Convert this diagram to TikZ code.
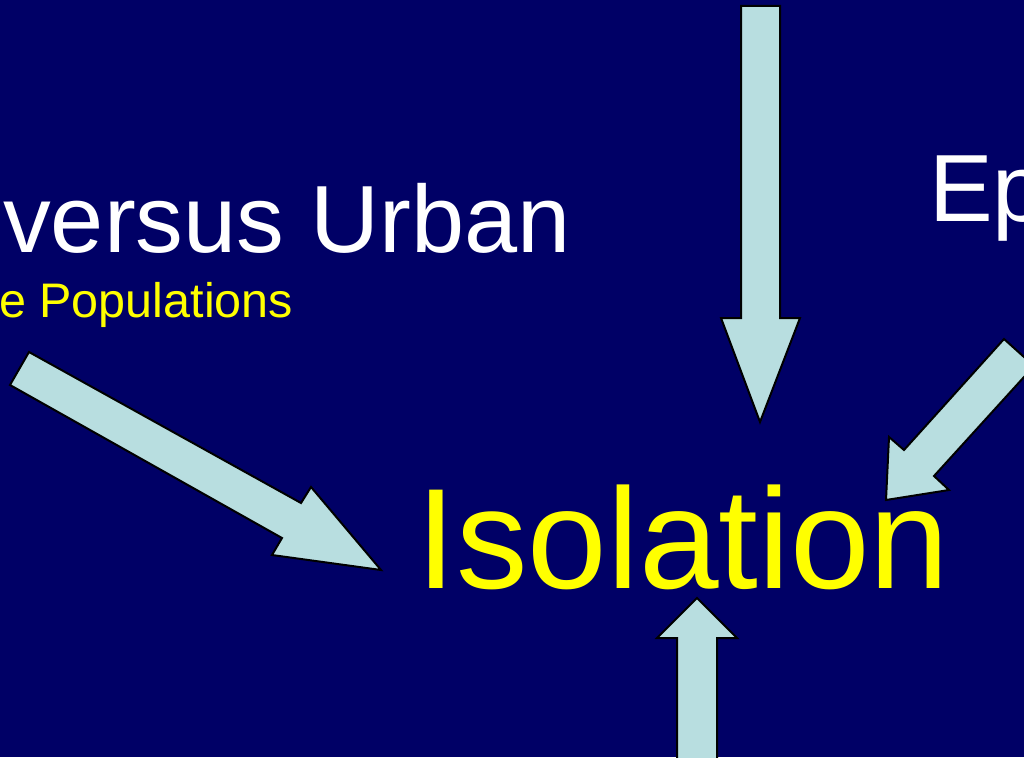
\documentclass[tikz,border=0pt]{standalone}
\usepackage{fontspec}
\setmainfont{Liberation Sans}
\definecolor{bg}{HTML}{000066}
\definecolor{arrowfill}{HTML}{B8DEE0}
\definecolor{yel}{HTML}{FFFF00}
\begin{document}
\begin{tikzpicture}[x=1pt,y=-1pt,
  blockarrow/.style={fill=arrowfill,draw=black,line width=2pt,line join=miter},
  bigwhite/.style={text=white,inner sep=0pt,anchor=base west,font=\fontsize{95.5}{100}\selectfont},
  subyellow/.style={text=yel,inner sep=0pt,anchor=base west,font=\fontsize{48.5}{52}\selectfont},
  titleyellow/.style={text=yel,inner sep=0pt,anchor=base west,font=\fontsize{143}{150}\selectfont}]
\useasboundingbox (0,0) rectangle (1024,757);
\clip (0,0) rectangle (1024,757);
\fill[bg] (0,0) rectangle (1024,757);
% texts
\node[bigwhite] (urban) at (3,252) {versus Urban};
\node[subyellow] (pop) at (-1,317) {e Populations};
\node[bigwhite] (ep) at (929,221) {Ep};
\node[titleyellow] (iso) at (416.5,588) {Isolation};
% block arrows
\draw[blockarrow] (29,352) -- (301,503) -- (311,487) -- (381,570) -- (272,555) -- (282,538) -- (10,385) -- cycle;
\draw[blockarrow] (741,6) -- (780,6) -- (780,318) -- (800,318) -- (760,422) -- (721,318) -- (741,318) -- cycle;
\draw[blockarrow] (1004,339) -- (1034,366) -- (934,476) -- (949,490) -- (886,500) -- (889,437) -- (904,450) -- cycle;
\draw[blockarrow] (697,598) -- (737,638) -- (717,638) -- (717,780) -- (677,780) -- (677,638) -- (657,638) -- cycle;
\end{tikzpicture}
\end{document}
